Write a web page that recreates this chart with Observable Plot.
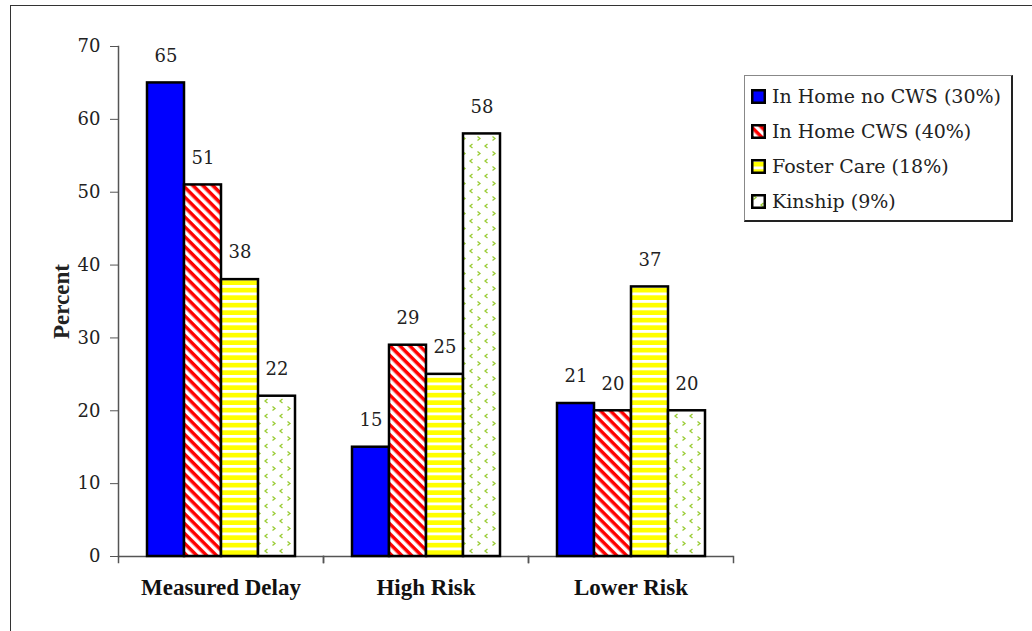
<!DOCTYPE html>
<html>
<head>
<meta charset="utf-8">
<script src="https://cdn.jsdelivr.net/npm/d3@7"></script>
<script src="https://cdn.jsdelivr.net/npm/@observablehq/plot@0.6"></script>
<style>
  html, body { margin: 0; padding: 0; background: #fff; }
  #wrap { position: relative; width: 1032px; height: 631px; overflow: hidden; font-family: "DejaVu Serif", serif; }
  #outer { position: absolute; left: 10px; top: 5px; right: -5px; bottom: -5px; border-left: 1px solid #333; border-top: 1px solid #333; }
  #chart { position: absolute; left: 0; top: 0; }
  #legend { position: absolute; left: 744px; top: 75px; width: 266px; height: 141px; border: 1px solid #888; border-right: 2px solid #222; border-bottom: 2px solid #222; background: #fff; padding-top: 3px; box-sizing: content-box; }
  .row { height: 35px; line-height: 35px; display: flex; align-items: center; font-size: 19px; color: #222; white-space: nowrap; }
  .row svg { margin-left: 6px; margin-right: 6px; flex: none; }
  g[aria-label="y-axis label"] text { font-weight: bold; font-family: "Liberation Serif", "Times New Roman", serif; font-size: 23px; }
  g[aria-label="fx-axis tick label"] text { font-weight: bold; }
</style>
</head>
<body>
<svg width="0" height="0" style="position:absolute">
  <defs>
    <pattern id="pRed" patternUnits="userSpaceOnUse" width="10" height="7" patternTransform="rotate(45)">
      <rect x="0" y="0" width="10" height="7" fill="#fff"/>
      <rect x="0" y="0" width="10" height="3.5" fill="#ff0000"/>
    </pattern>
    <pattern id="pYellow" patternUnits="userSpaceOnUse" width="8" height="7.5">
      <rect x="0" y="0" width="8" height="7.5" fill="#ffff00"/>
      <rect x="0" y="0" width="8" height="2.8" fill="#fff"/>
    </pattern>
    <pattern id="pKin" patternUnits="userSpaceOnUse" width="15" height="15">
      <rect x="0" y="0" width="15" height="15" fill="#fff"/>
      <path d="M2.5,1.5 L5,3.5 L2.5,5.5" fill="none" stroke="#99cc33" stroke-width="1.3"/>
      <path d="M12.5,9 L10,11 L12.5,13" fill="none" stroke="#99cc33" stroke-width="1.3"/>
    </pattern>
  </defs>
</svg>
<div id="wrap">
  <div id="outer"></div>
  <div id="chart"></div>
  <div id="legend"></div>
</div>
<script>
const groups = ["Measured Delay", "High Risk", "Lower Risk"];
const series = ["In Home no CWS (30%)", "In Home CWS (40%)", "Foster Care (18%)", "Kinship (9%)"];
const inHomeNoCWS = [65, 15, 21];
const inHomeCWS = [51, 29, 20];
const fosterCare = [38, 25, 37];
const kinship = [22, 58, 20];
const yTicks = [0, 10, 20, 30, 40, 50, 60, 70];
const fills = ["#0000ff", "url(#pRed)", "url(#pYellow)", "url(#pKin)"];

const seriesValues = [inHomeNoCWS, inHomeCWS, fosterCare, kinship];
const data = [];
groups.forEach((g, gi) => {
  series.forEach((s, si) => data.push({group: g, series: s, value: seriesValues[si][gi]}));
});

const serif = "'DejaVu Serif', serif";
const boldSerif = "'Liberation Serif', 'Times New Roman', serif";

const chart = Plot.plot({
  width: 1032,
  height: 631,
  marginLeft: 118,
  marginRight: 299,
  marginTop: 46,
  marginBottom: 75,
  style: {fontFamily: serif, fontSize: "18px", color: "#222", background: "transparent", overflow: "visible"},
  fx: {domain: groups, padding: 0, label: null},
  x: {domain: series, paddingInner: 0, paddingOuter: 0.77, axis: null},
  y: {domain: [0, 70], axis: null},
  color: {domain: series, range: fills},
  marks: [
    Plot.axisY({ticks: yTicks, tickSize: 8, tickPadding: 10, label: "Percent", labelAnchor: "center", labelArrow: "none", labelOffset: 66, stroke: "#555", fontSize: 18, fontFamily: serif}),
    Plot.frame({anchor: "left", fx: groups[0], stroke: "#555", strokeWidth: 1.5}),
    Plot.frame({anchor: "left", insetTop: 510, insetBottom: -6, stroke: "#555", strokeWidth: 1.5}),
    Plot.frame({anchor: "right", insetTop: 510, insetBottom: -6, stroke: "#555", strokeWidth: 1.5}),
    Plot.ruleY([0], {stroke: "#555", strokeWidth: 1.5}),
    Plot.barY(data, {fx: "group", x: "series", y: "value", fill: "series", stroke: "#000", strokeWidth: 2.5}),
    Plot.text(data, {fx: "group", x: "series", y: "value", text: d => String(d.value), dy: -27, fontSize: 18, fill: "#222", fontFamily: serif}),
    Plot.axisFx({anchor: "bottom", tickSize: 0, tickPadding: 22, label: null, fontSize: 23, fontWeight: "bold", fill: "#111", fontFamily: boldSerif})
  ]
});
document.getElementById("chart").appendChild(chart);

const legend = document.getElementById("legend");
series.forEach((s, i) => {
  const row = document.createElement("div");
  row.className = "row";
  row.innerHTML = `<svg width="15" height="15"><rect x="1.25" y="1.25" width="12.5" height="12.5" fill="${fills[i]}" stroke="#000" stroke-width="2.5"/></svg><span>${s}</span>`;
  legend.appendChild(row);
});
</script>
</body>
</html>
